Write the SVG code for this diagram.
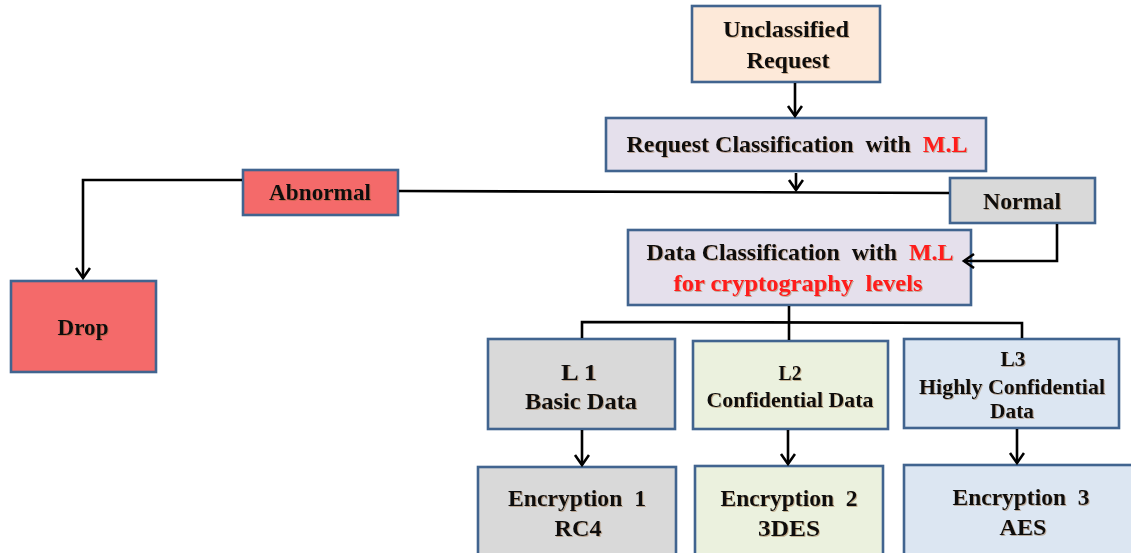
<svg xmlns="http://www.w3.org/2000/svg" width="1131" height="553" viewBox="0 0 1131 553">
<style>
.box{stroke:#41648F;stroke-width:2.6}
.t{font-family:"Liberation Serif","Times New Roman",serif;font-weight:bold;fill:#111;text-anchor:middle;white-space:pre;filter:url(#sh)}
.red{fill:#FF1A1A}
.c{fill:none;stroke:#000;stroke-width:2.6}
.peach{fill:#FDE9D9}.lav{fill:#E5E0EC}.redf{fill:#F46A6A}.gray{fill:#D9D9D9}.green{fill:#EBF1DE}.blue{fill:#DCE6F2}
</style>
<defs>
<filter id="sh" x="-5%" y="-20%" width="110%" height="140%">
<feDropShadow dx="1" dy="1" stdDeviation="0.5" flood-color="#8a5a2a" flood-opacity="0.4"/>
</filter>
<marker id="ah" markerUnits="userSpaceOnUse" markerWidth="20" markerHeight="20" refX="11" refY="8" orient="auto">
<path d="M1,1 L11,8 L1,15" fill="none" stroke="#000" stroke-width="2.6"/>
</marker>
</defs>
<rect width="1131" height="553" fill="#fff"/>
<g id="unclassified">
<rect class="box peach" x="692" y="6" width="188" height="76"/>
<text class="t" x="786" y="37" font-size="24" textLength="126" lengthAdjust="spacingAndGlyphs">Unclassified</text>
<text class="t" x="788" y="68" font-size="24" textLength="83" lengthAdjust="spacingAndGlyphs">Request</text>
</g>
<g id="request-classification">
<rect class="box lav" x="606" y="118" width="380" height="53"/>
<text class="t" x="797" y="152" font-size="24" textLength="341" lengthAdjust="spacingAndGlyphs" xml:space="preserve">Request Classification  with  <tspan class="red">M.L</tspan></text>
</g>
<g id="abnormal">
<rect class="box redf" x="243" y="170" width="155" height="45"/>
<text class="t" x="320" y="200" font-size="24" textLength="102" lengthAdjust="spacingAndGlyphs">Abnormal</text>
</g>
<g id="drop">
<rect class="box redf" x="11" y="281" width="145" height="91"/>
<text class="t" x="83" y="335" font-size="24" textLength="51" lengthAdjust="spacingAndGlyphs">Drop</text>
</g>
<g id="normal">
<rect class="box gray" x="950" y="178" width="145" height="45"/>
<text class="t" x="1022" y="209" font-size="24" textLength="78" lengthAdjust="spacingAndGlyphs">Normal</text>
</g>
<g id="data-classification">
<rect class="box lav" x="628" y="230" width="343" height="75"/>
<text class="t" x="800" y="260" font-size="24" textLength="307" lengthAdjust="spacingAndGlyphs" xml:space="preserve">Data Classification  with  <tspan class="red">M.L</tspan></text>
<text class="t red" x="798" y="291" font-size="24" textLength="249" lengthAdjust="spacingAndGlyphs" xml:space="preserve">for cryptography  levels</text>
</g>
<g id="l1">
<rect class="box gray" x="488" y="339" width="187" height="90"/>
<text class="t" x="579" y="380" font-size="24" textLength="36" lengthAdjust="spacingAndGlyphs">L 1</text>
<text class="t" x="581" y="409" font-size="23" textLength="112" lengthAdjust="spacingAndGlyphs">Basic Data</text>
</g>
<g id="l2">
<rect class="box green" x="693" y="341" width="195" height="88"/>
<text class="t" x="790" y="380" font-size="22" textLength="23" lengthAdjust="spacingAndGlyphs">L2</text>
<text class="t" x="790" y="407" font-size="22" textLength="167" lengthAdjust="spacingAndGlyphs">Confidential Data</text>
</g>
<g id="l3">
<rect class="box blue" x="904" y="339" width="215" height="89"/>
<text class="t" x="1013" y="366" font-size="22" textLength="25" lengthAdjust="spacingAndGlyphs">L3</text>
<text class="t" x="1012" y="394" font-size="22" textLength="186" lengthAdjust="spacingAndGlyphs">Highly Confidential</text>
<text class="t" x="1012" y="418" font-size="22" textLength="44" lengthAdjust="spacingAndGlyphs">Data</text>
</g>
<g id="enc1">
<rect class="box gray" x="478" y="467" width="198" height="100"/>
<text class="t" x="577" y="506" font-size="24" textLength="138" lengthAdjust="spacingAndGlyphs" xml:space="preserve">Encryption  1</text>
<text class="t" x="578" y="536" font-size="24" textLength="47" lengthAdjust="spacingAndGlyphs">RC4</text>
</g>
<g id="enc2">
<rect class="box green" x="695" y="466" width="188" height="100"/>
<text class="t" x="789" y="506" font-size="24" textLength="137" lengthAdjust="spacingAndGlyphs" xml:space="preserve">Encryption  2</text>
<text class="t" x="789" y="536" font-size="24" textLength="62" lengthAdjust="spacingAndGlyphs">3DES</text>
</g>
<g id="enc3">
<rect class="box blue" x="904" y="465" width="232" height="100"/>
<text class="t" x="1021" y="505" font-size="24" textLength="137" lengthAdjust="spacingAndGlyphs" xml:space="preserve">Encryption  3</text>
<text class="t" x="1023" y="535" font-size="24" textLength="47" lengthAdjust="spacingAndGlyphs">AES</text>
</g>
<g id="connectors">
<line class="c" x1="795" y1="83" x2="795" y2="116" marker-end="url(#ah)"/>
<line class="c" x1="796" y1="173" x2="796" y2="190" marker-end="url(#ah)"/>
<polyline class="c" points="399,191 700,192 949,193"/>
<polyline class="c" points="242,180 83,180 83,278" marker-end="url(#ah)"/>
<polyline class="c" points="1057,224 1057,261 964,261" marker-end="url(#ah)"/>
<line class="c" x1="789" y1="306" x2="789" y2="340"/>
<polyline class="c" points="582,338 582,322 1022,323 1022,338"/>
<line class="c" x1="582" y1="430" x2="582" y2="465" marker-end="url(#ah)"/>
<line class="c" x1="788" y1="430" x2="788" y2="464" marker-end="url(#ah)"/>
<line class="c" x1="1017" y1="429" x2="1017" y2="463" marker-end="url(#ah)"/>
</g>
</svg>
